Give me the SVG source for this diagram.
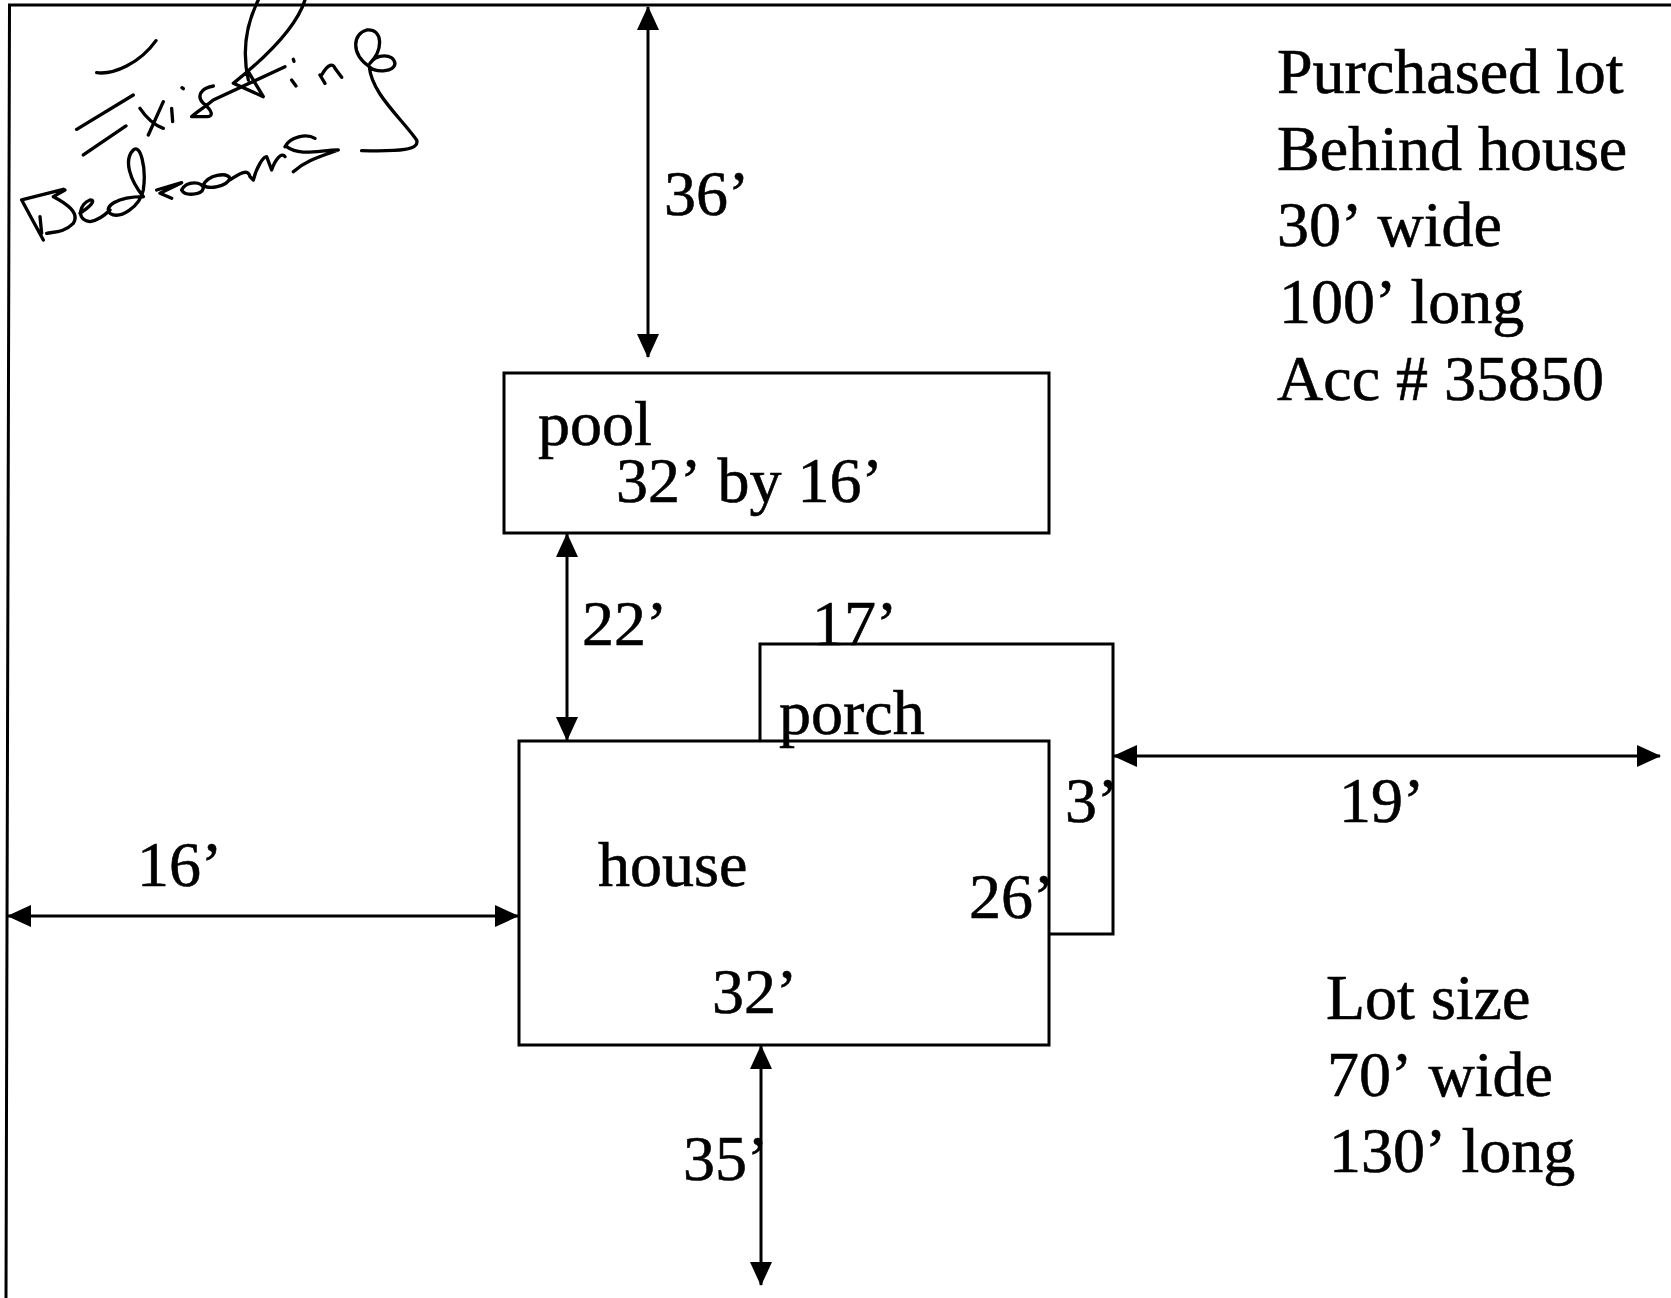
<svg xmlns="http://www.w3.org/2000/svg" width="1671" height="1298" viewBox="0 0 1671 1298">
<style>
text{font-family:"Liberation Serif","Times New Roman",serif;font-size:64px;fill:#000;stroke:#000;stroke-width:.6}
.box{fill:#fff;stroke:#000;stroke-width:3}
.line{fill:none;stroke:#000;stroke-width:3}
.dim{fill:none;stroke:#000;stroke-width:3;marker-start:url(#a);marker-end:url(#a)}
.hand{fill:none;stroke:#000;stroke-width:10;stroke-linecap:round;stroke-linejoin:round}
</style>
<defs><marker id="a" viewBox="0 0 24 24" refX="23" refY="12" markerWidth="24" markerHeight="24" markerUnits="userSpaceOnUse" orient="auto-start-reverse"><path d="M0 1L24 12L0 23Z" fill="#000"/></marker></defs>
<rect width="1671" height="1298" fill="#fff"/>
<path id="frame" class="line" d="M6 1298L9.500 5L1671 5"/>
<g id="connectors">
<path class="dim" d="M648 7L648 357"/>
<path class="dim" d="M567 534L567 740"/>
<path class="dim" d="M1114 756L1660 756"/>
<path class="dim" d="M8 916L518 916"/>
<path class="dim" d="M761 1046L761 1285"/>
</g>
<g id="porch"><rect class="box" x="760" y="644" width="353" height="290"/></g>
<g id="pool"><rect class="box" x="504" y="373" width="545" height="160"/><text x="538" y="445">pool</text><text x="616" y="502">32’ <tspan dx="5">by 16’</tspan></text></g>
<g id="house"><rect class="box" x="519" y="741" width="530" height="304"/><text x="598" y="886">house</text><text x="969" y="918">26’</text><text x="712" y="1013">32’</text></g>
<g id="labels">
<text x="779" y="734">porch</text>
<text x="664" y="215">36’</text>
<text x="582" y="645">22’</text>
<text x="812" y="645">17’</text>
<text x="1065" y="822">3’</text>
<text x="1339" y="822">19’</text>
<text x="137" y="886">16’</text>
<text x="683" y="1180">35’</text>
<text x="1277" y="93">Purchased lot</text>
<text x="1277" y="170">Behind house</text>
<text x="1277" y="246">30’ <tspan dx="4">wide</tspan></text>
<text x="1279" y="323">100’ <tspan dx="3">long</tspan></text>
<text x="1277" y="400">Acc # 35850</text>
<text x="1326" y="1019">Lot size</text>
<text x="1327" y="1096">70’ <tspan dx="5">wide</tspan></text>
<text x="1329" y="1172">130’ <tspan dx="4">long</tspan></text>
</g>
<g id="handwriting" transform="scale(0.3333)">
<path class="hand" d="M290 218C340 225 420 190 468 122M230 388L400 285M250 465L378 378M490 305L445 405M420 325Q450 370 490 385M515 325L518 365M546 263L550 266M640 258C600 265 590 290 610 310C640 335 640 350 620 350L575 350C590 335 610 325 640 300L855 200M775 0C740 70 725 150 745 240M915 0C890 80 800 170 700 250L790 290L745 215M875 240L888 258M880 178L882 184M960 225L975 250M965 225C985 190 1000 190 1005 205L1025 232M1108 200C1050 160 1060 100 1100 90C1150 85 1150 150 1110 190C1130 160 1180 160 1185 190C1185 215 1130 220 1108 200C1115 280 1200 350 1250 420C1260 450 1200 455 1085 452M65 600L190 568M65 600L130 720M120 650L125 700M195 570L160 590C200 610 240 640 220 670C190 700 160 695 140 700M240 640C270 620 290 600 270 600C240 610 225 660 270 665C300 660 320 640 330 630M430 590C350 590 310 620 330 640C360 660 420 620 430 570C440 500 420 430 400 450C370 480 390 540 430 590M470 570L545 548L480 580L515 595M545 570C560 540 610 545 610 565C605 585 555 590 545 570M610 555C625 525 680 515 690 535C680 560 625 570 610 555M690 540C720 520 745 505 750 530L760 540C770 500 790 470 800 470L815 510C825 480 845 455 855 470M855 440C870 410 920 400 945 415M860 440C900 470 960 450 1015 450C960 470 920 480 880 515"/>
</g>
</svg>
